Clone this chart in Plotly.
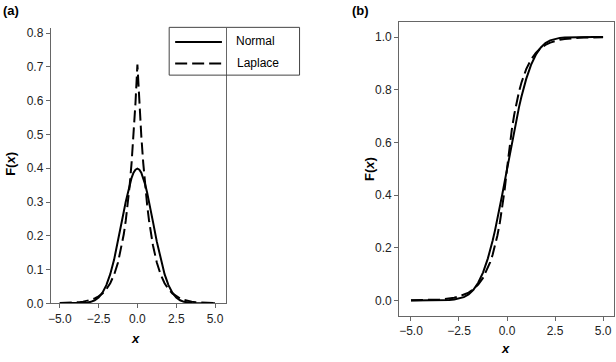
import plotly.graph_objects as go

# ---- data ----
x_vals = [-5, -4.75, -4.5, -4.25, -4, -3.75, -3.5, -3.25, -3, -2.75, -2.5, -2.25, -2,
          -1.75, -1.5, -1.25, -1, -0.875, -0.75, -0.625, -0.5, -0.375, -0.25, -0.125, 0,
          0.125, 0.25, 0.375, 0.5, 0.625, 0.75, 0.875, 1, 1.25, 1.5, 1.75, 2, 2.25, 2.5,
          2.75, 3, 3.25, 3.5, 3.75, 4, 4.25, 4.5, 4.75, 5]

normal_pdf = [0.0000, 0.0000, 0.0000, 0.0000, 0.0001, 0.0004, 0.0009, 0.0020, 0.0044, 0.0091,
              0.0175, 0.0317, 0.0540, 0.0863, 0.1295, 0.1826, 0.2420, 0.2719, 0.3011, 0.3280,
              0.3521, 0.3717, 0.3867, 0.3958, 0.3989,
              0.3958, 0.3867, 0.3717, 0.3521, 0.3280, 0.3011, 0.2719, 0.2420, 0.1826, 0.1295,
              0.0863, 0.0540, 0.0317, 0.0175, 0.0091, 0.0044, 0.0020, 0.0009, 0.0004, 0.0001,
              0.0000, 0.0000, 0.0000, 0.0000]

laplace_pdf = [0.0006, 0.0009, 0.0012, 0.0017, 0.0025, 0.0035, 0.0050, 0.0071, 0.0102, 0.0145,
               0.0206, 0.0293, 0.0418, 0.0595, 0.0848, 0.1207, 0.1719, 0.2051, 0.2448, 0.2922,
               0.3487, 0.4161, 0.4965, 0.5926, 0.7071,
               0.5926, 0.4965, 0.4161, 0.3487, 0.2922, 0.2448, 0.2051, 0.1719, 0.1207, 0.0848,
               0.0595, 0.0418, 0.0293, 0.0206, 0.0145, 0.0102, 0.0071, 0.0050, 0.0035, 0.0025,
               0.0017, 0.0012, 0.0009, 0.0006]

normal_cdf = [0.0000, 0.0000, 0.0000, 0.0000, 0.0000, 0.0001, 0.0002, 0.0006, 0.0013, 0.0030,
              0.0062, 0.0122, 0.0228, 0.0401, 0.0668, 0.1056, 0.1587, 0.1908, 0.2266, 0.2660,
              0.3085, 0.3538, 0.4013, 0.4503, 0.5000,
              0.5497, 0.5987, 0.6462, 0.6915, 0.7340, 0.7734, 0.8092, 0.8413, 0.8944, 0.9332,
              0.9599, 0.9772, 0.9878, 0.9938, 0.9970, 0.9987, 0.9994, 0.9998, 0.9999, 1.0000,
              1.0000, 1.0000, 1.0000, 1.0000]

laplace_cdf = [0.0004, 0.0006, 0.0009, 0.0012, 0.0017, 0.0025, 0.0035, 0.0050, 0.0072, 0.0102,
               0.0146, 0.0208, 0.0296, 0.0421, 0.0600, 0.0854, 0.1216, 0.1451, 0.1731, 0.2066,
               0.2466, 0.2942, 0.3511, 0.4190, 0.5000,
               0.5810, 0.6489, 0.7058, 0.7534, 0.7934, 0.8269, 0.8549, 0.8784, 0.9146, 0.9400,
               0.9579, 0.9704, 0.9792, 0.9854, 0.9898, 0.9928, 0.9950, 0.9965, 0.9975, 0.9983,
               0.9988, 0.9991, 0.9994, 0.9996]

left_yticks = [0.0, 0.1, 0.2, 0.3, 0.4, 0.5, 0.6, 0.7, 0.8]
right_yticks = [0.0, 0.2, 0.4, 0.6, 0.8, 1.0]
xticks = [-5.0, -2.5, 0.0, 2.5, 5.0]
series_names = ["Normal", "Laplace"]

# ---- figure ----
W, H = 616, 362
def px(x):
    return x / W
def py(y):
    return 1 - y / H

DASH = "12px,5px"
LW = 2

fig = go.Figure()
fig.add_trace(go.Scatter(x=x_vals, y=normal_pdf, mode="lines", name=series_names[0],
                         line=dict(color="black", width=LW), xaxis="x", yaxis="y"))
fig.add_trace(go.Scatter(x=x_vals, y=laplace_pdf, mode="lines", name=series_names[1],
                         line=dict(color="black", width=LW, dash=DASH), xaxis="x", yaxis="y"))
fig.add_trace(go.Scatter(x=x_vals, y=normal_cdf, mode="lines", name=series_names[0],
                         line=dict(color="black", width=LW), xaxis="x2", yaxis="y2"))
fig.add_trace(go.Scatter(x=x_vals, y=laplace_cdf, mode="lines", name=series_names[1],
                         line=dict(color="black", width=LW, dash=DASH), xaxis="x2", yaxis="y2"))

tickfont = dict(family="Liberation Sans, Arial, sans-serif", size=12, color="#222")
axcol = "#666"

common_x = dict(tickvals=xticks, ticktext=[f"{v:.1f}".replace("-", "\u2212") for v in xticks],
                ticks="outside", ticklen=4, tickcolor=axcol, showline=True, linecolor=axcol,
                linewidth=1, showgrid=False, zeroline=False, tickfont=tickfont)

fig.update_layout(
    width=W, height=H,
    margin=dict(l=0, r=0, t=0, b=0),
    plot_bgcolor="white", paper_bgcolor="white",
    showlegend=False,
    xaxis=dict(domain=[px(48), px(224)], range=[-5.58, 5.70], anchor="y", **common_x),
    yaxis=dict(domain=[py(309), py(27)], range=[0, 0.8144], anchor="x",
               tickvals=left_yticks, ticktext=[f"{v:.1f}" for v in left_yticks],
               ticks="outside", ticklen=4, tickcolor=axcol, showline=True, linecolor=axcol,
               linewidth=1, mirror=True, showgrid=False, zeroline=False, tickfont=tickfont),
    xaxis2=dict(domain=[px(398), px(614)], range=[-5.62, 5.57], anchor="y2", mirror=True, **common_x),
    yaxis2=dict(domain=[py(322), py(20)], range=[-0.0593, 1.0593], anchor="x2",
                tickvals=right_yticks, ticktext=[f"{v:.1f}" for v in right_yticks],
                ticks="outside", ticklen=4, tickcolor=axcol, showline=True, linecolor=axcol,
                linewidth=1, mirror=True, showgrid=False, zeroline=False, tickfont=tickfont),
)

font_b = dict(family="Liberation Sans, Arial, sans-serif", size=13, color="black")
ann = [
    dict(text="<b>(a)</b>", x=px(8), y=py(9)),
    dict(text="<b>(b)</b>", x=px(359), y=py(9)),
    dict(text="<b><i>x</i></b>", x=px(133), y=py(345)),
    dict(text="<b><i>x</i></b>", x=px(505), y=py(355)),
    dict(text="<b>F(<i>x</i>)</b>", x=px(8), y=py(166), textangle=-90),
    dict(text="<b>F(<i>x</i>)</b>", x=px(369), y=py(171), textangle=-90),
]
for a in ann:
    fig.add_annotation(xref="paper", yref="paper", showarrow=False,
                       xanchor="center", yanchor="middle", font=font_b, **a)

# legend box (manual, as in the reference)
leg_font = dict(family="Liberation Sans, Arial, sans-serif", size=12, color="black")
fig.add_shape(type="rect", xref="paper", yref="paper", x0=px(167), x1=px(298),
              y0=py(75), y1=py(26), line=dict(color="#444", width=1), fillcolor="rgba(0,0,0,0)")
fig.add_shape(type="line", xref="paper", yref="paper", x0=px(173), x1=px(220),
              y0=py(41), y1=py(41), line=dict(color="black", width=LW))
fig.add_shape(type="line", xref="paper", yref="paper", x0=px(173), x1=px(220),
              y0=py(63), y1=py(63), line=dict(color="black", width=LW, dash=DASH))
fig.add_annotation(xref="paper", yref="paper", showarrow=False, x=px(232), y=py(40),
                   xanchor="left", yanchor="middle", text=series_names[0], font=leg_font)
fig.add_annotation(xref="paper", yref="paper", showarrow=False, x=px(233), y=py(63),
                   xanchor="left", yanchor="middle", text=series_names[1], font=leg_font)

fig.write_html("out.html", config={"displayModeBar": False},
               post_script="document.body.style.margin='0px';")
